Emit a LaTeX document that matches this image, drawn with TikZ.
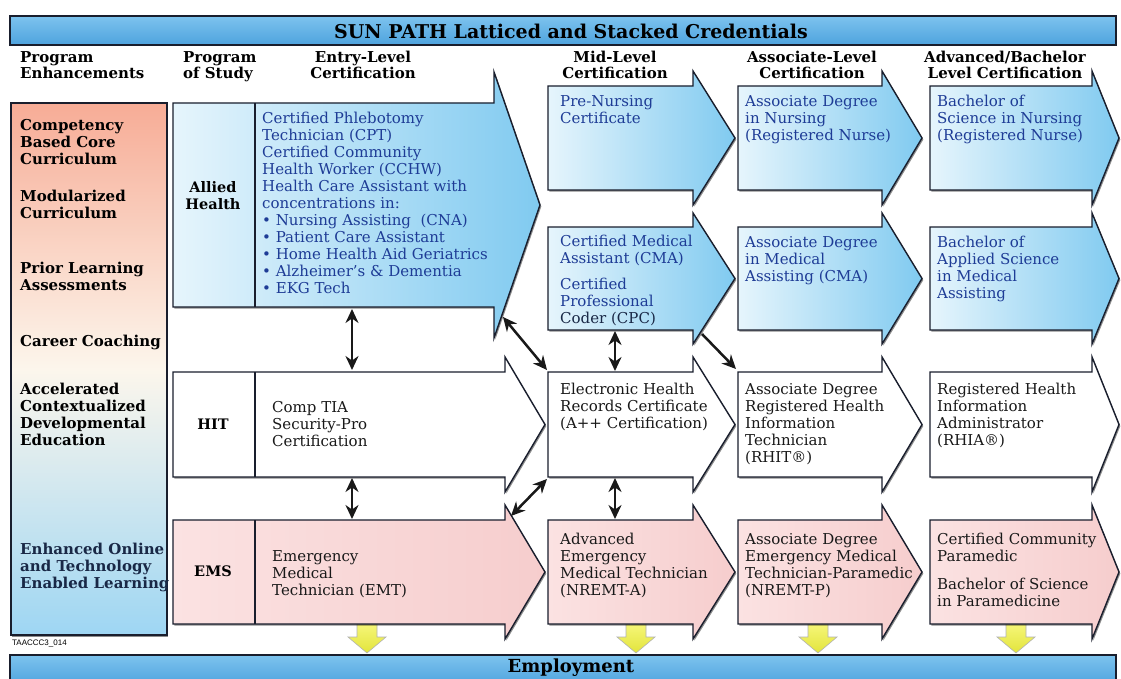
\documentclass[tikz,border=0pt]{standalone}
\usepackage{fontspec}
\setmainfont{DejaVu Serif}
\newfontfamily\smallsans{Liberation Sans}
\usetikzlibrary{shadows,arrows.meta}

\definecolor{boxline}{RGB}{25,30,45}
\definecolor{blA}{RGB}{230,245,252}
\definecolor{blB}{RGB}{128,202,240}
\definecolor{pkA}{RGB}{251,226,226}
\definecolor{pkB}{RGB}{246,205,205}
\definecolor{btext}{RGB}{30,60,150}
\definecolor{tbA}{RGB}{125,195,238}
\definecolor{tbB}{RGB}{78,163,222}
\definecolor{lcA}{RGB}{247,172,150}
\definecolor{lcB}{RGB}{252,246,236}
\definecolor{lcC}{RGB}{158,214,243}
\definecolor{yelA}{RGB}{246,246,120}
\definecolor{yelB}{RGB}{226,228,60}
\definecolor{navytext}{RGB}{25,40,70}

% #1 style, #2 x-left, #3 y-top, #4 x-shaft-end, #5 y-bottom, #6 x-tip, #7 head extension
\newcommand{\credarrow}[7]{%
  \path[#1] (#2,#3) -- (#4,#3) -- (#4,{#3-#7}) -- (#6,{(#3+#5)/2})
    -- (#4,{#5+#7}) -- (#4,#5) -- (#2,#5) -- cycle;}
% yellow down arrow centred at x = #1
\newcommand{\yelarrow}[1]{%
  \path[yarrow] ({#1-10},624) -- ({#1+10},624) -- ({#1+10},637) -- ({#1+19},637)
    -- (#1,653) -- ({#1-19},637) -- ({#1-10},637) -- cycle;}

\tikzset{
  shadowed/.style={drop shadow={shadow xshift=1.3pt,shadow yshift=-1.6pt,fill=black,opacity=.45}},
  bbox/.style={draw=boxline,line width=1.4pt,left color=blA,right color=blB,shadowed},
  wbox/.style={draw=boxline,line width=1.4pt,fill=white,shadowed},
  pbox/.style={draw=boxline,line width=1.4pt,left color=pkA,right color=pkB,shadowed},
  yarrow/.style={draw=black!30,line width=.6pt,top color=yelA,bottom color=yelB},
  divider/.style={draw=boxline,line width=1.1pt},
  bartext/.style={font=\bfseries\fontsize{19}{22}\selectfont,text=black,inner sep=0pt},
  hdr/.style={font=\bfseries\fontsize{15}{16}\selectfont,text=black,inner sep=0pt},
  lefttxt/.style={font=\bfseries\fontsize{15}{17}\selectfont,text=black,inner sep=0pt,align=left,anchor=north west},
  progtxt/.style={font=\bfseries\fontsize{14.5}{17}\selectfont,text=black,inner sep=0pt,align=center},
  bluetxt/.style={font=\fontsize{15}{17}\selectfont,text=btext,inner sep=0pt,align=left,anchor=north west},
  darktxt/.style={font=\fontsize{15}{17}\selectfont,text=black!90,inner sep=0pt,align=left,anchor=north west},
  conn/.style={draw=black!90,line width=2.5pt,{Stealth[length=14pt,width=13pt]}-{Stealth[length=14pt,width=13pt]}},
  connone/.style={draw=black!90,line width=2.5pt,-{Stealth[length=14pt,width=13pt]}}
}

\begin{document}
\begin{tikzpicture}[x=1pt,y=-1pt]
\useasboundingbox (0,0) rectangle (1121,679);
\fill[white] (0,0) rectangle (1121,679);

% title bar
\path[draw=boxline,line width=1.4pt,top color=tbA,bottom color=tbB] (10,16) rectangle (1116,45);
\node[bartext] (title) at (571,31) {SUN PATH Latticed and Stacked Credentials};

% column headers
\node[hdr,align=left,anchor=north west] (hEnh) at (20,51) {Program\\Enhancements};
\node[hdr,align=left,anchor=north west] (hProg) at (183,51) {Program\\of Study};
\node[hdr,align=center,anchor=north] (hEntry) at (363,51) {Entry-Level\\Certification};
\node[hdr,align=center,anchor=north] (hMid) at (615,51) {Mid-Level\\Certification};
\node[hdr,align=center,anchor=north] (hAssoc) at (812,51) {Associate-Level\\Certification};
\node[hdr,align=center,anchor=north] (hAdv) at (1005,51) {Advanced/Bachelor\\Level Certification};

% left column
\path[draw=boxline,line width=1.4pt,top color=lcA,bottom color=lcC,middle color=lcB,shadowed] (11,103) rectangle (167,635);

% yellow arrows (behind boxes)
\yelarrow{367}
\yelarrow{636}
\yelarrow{818}
\yelarrow{1016}

% Allied Health row
\credarrow{bbox}{173}{103}{494}{307}{540}{31}
\draw[divider] (255,103) -- (255,307);
\credarrow{bbox}{548}{86}{693}{190}{735}{15}
\credarrow{bbox}{548}{227}{693}{330}{735}{14}
\credarrow{bbox}{738}{86}{882}{190}{922}{15}
\credarrow{bbox}{738}{227}{882}{330}{922}{14}
\credarrow{bbox}{930}{86}{1092}{190}{1119}{15}
\credarrow{bbox}{930}{227}{1092}{330}{1119}{14}

% HIT row
\credarrow{wbox}{173}{372}{505}{477}{545}{15}
\draw[divider] (255,372) -- (255,477);
\credarrow{wbox}{548}{372}{693}{477}{735}{15}
\credarrow{wbox}{738}{372}{882}{477}{922}{15}
\credarrow{wbox}{930}{372}{1092}{477}{1119}{15}

% EMS row
\credarrow{pbox}{173}{520}{505}{624}{545}{15}
\draw[divider] (255,520) -- (255,624);
\credarrow{pbox}{548}{520}{693}{624}{735}{15}
\credarrow{pbox}{738}{520}{882}{624}{922}{15}
\credarrow{pbox}{930}{520}{1092}{624}{1119}{15}

% employment bar
\path[draw=boxline,line width=1.4pt,top color=tbA,bottom color=tbB] (10,655) rectangle (1116,685);
\node[bartext,font=\bfseries\fontsize{18}{20}\selectfont] (employ) at (571,668) {Employment};

% left column text
\node[lefttxt] (e1) at (20,119) {Competency\\Based Core\\Curriculum};
\node[lefttxt] (e2) at (20,190) {Modularized\\Curriculum};
\node[lefttxt] (e3) at (20,262) {Prior Learning\\Assessments};
\node[lefttxt] (e4) at (20,335) {Career Coaching};
\node[lefttxt] (e5) at (20,383) {Accelerated\\Contextualized\\Developmental\\Education};
\node[lefttxt,text=navytext] (e6) at (20,543) {Enhanced Online\\and Technology\\Enabled Learning};

% programs of study
\node[progtxt] (pAH) at (213,196) {Allied\\Health};
\node[progtxt] (pHIT) at (213,424) {HIT};
\node[progtxt] (pEMS) at (213,571) {EMS};

% Allied Health texts
\node[bluetxt] (tAHentry) at (262,112) {Certified Phlebotomy\\Technician (CPT)\\Certified Community\\Health Worker (CCHW)\\Health Care Assistant with\\concentrations in:\\• Nursing Assisting~ (CNA)\\• Patient Care Assistant\\• Home Health Aid Geriatrics\\• Alzheimer’s \& Dementia\\• EKG Tech};
\node[bluetxt] (tPreN) at (560,95) {Pre-Nursing\\Certificate};
\node[bluetxt] (tCMA) at (560,235) {Certified Medical\\Assistant (CMA)\\[9pt]Certified\\Professional\\\textcolor{navytext}{Coder (CPC)}};
\node[bluetxt] (tADN) at (745,95) {Associate Degree\\in Nursing\\(Registered Nurse)};
\node[bluetxt] (tADMA) at (745,236) {Associate Degree\\in Medical\\Assisting (CMA)};
\node[bluetxt] (tBSN) at (937,95) {Bachelor of\\Science in Nursing\\(Registered Nurse)};
\node[bluetxt] (tBAS) at (937,236) {Bachelor of\\Applied Science\\in Medical\\Assisting};

% HIT texts
\node[darktxt] (tComp) at (272,401) {Comp TIA\\Security-Pro\\Certification};
\node[darktxt] (tEHR) at (560,383) {Electronic Health\\Records Certificate\\(A++ Certification)};
\node[darktxt] (tRHIT) at (745,383) {Associate Degree\\Registered Health\\Information\\Technician\\(RHIT®)};
\node[darktxt] (tRHIA) at (937,383) {Registered Health\\Information\\Administrator\\(RHIA®)};

% EMS texts
\node[darktxt] (tEMT) at (272,550) {Emergency\\Medical\\Technician (EMT)};
\node[darktxt] (tAEMT) at (560,533) {Advanced\\Emergency\\Medical Technician\\(NREMT-A)};
\node[darktxt] (tPara) at (745,533) {Associate Degree\\Emergency Medical\\Technician-Paramedic\\(NREMT-P)};
\node[darktxt] (tCCP) at (937,533) {Certified Community\\Paramedic\\[11pt]Bachelor of Science\\in Paramedicine};

\node[font=\smallsans\fontsize{8}{9}\selectfont,anchor=west,inner sep=0pt] (code) at (12,643) {TAACCC3\_014};

% connector end points
\coordinate (c1a) at (352,309); \coordinate (c1b) at (352,370);
\coordinate (c2a) at (503,317); \coordinate (c2b) at (547,370);
\coordinate (c3a) at (615,331); \coordinate (c3b) at (615,371);
\coordinate (c4a) at (702,334); \coordinate (c4b) at (736,369);
\coordinate (c5a) at (352,478); \coordinate (c5b) at (352,519);
\coordinate (c6a) at (511,516); \coordinate (c6b) at (547,479);
\coordinate (c7a) at (615,478); \coordinate (c7b) at (615,519);

\draw[conn] (c1a) -- (c1b);
\draw[conn] (c2a) -- (c2b);
\draw[conn] (c3a) -- (c3b);
\draw[connone] (c4a) -- (c4b);
\draw[conn] (c5a) -- (c5b);
\draw[conn] (c6a) -- (c6b);
\draw[conn] (c7a) -- (c7b);
\end{tikzpicture}
\end{document}
